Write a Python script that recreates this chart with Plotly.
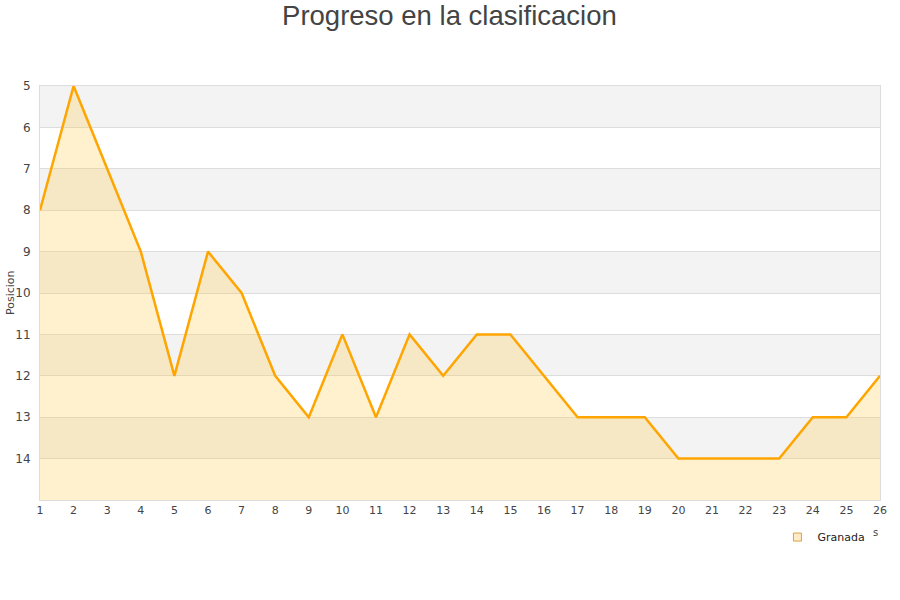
import plotly.graph_objects as go

jornadas = list(range(1, 27))
posicion = [8, 5, 7, 9, 12, 9, 10, 12, 13, 11, 13, 11, 12, 11, 11, 12, 13, 13, 13, 14, 14, 14, 14, 13, 13, 12]
y_ticks = list(range(5, 15))
y_min, y_max = 5, 15
team = "Granada"

fig = go.Figure()

# alternating bands
for b in range(y_min, y_max, 2):
    fig.add_shape(type="rect", xref="paper", yref="y", x0=0, x1=1, y0=b, y1=b + 1,
                  fillcolor="#F3F3F3", line_width=0, layer="below")

baseline = [y_max] * len(jornadas)
fig.add_trace(go.Scatter(x=jornadas, y=baseline, mode="lines", line=dict(width=0),
                         showlegend=False, hoverinfo="skip"))
fig.add_trace(go.Scatter(x=jornadas, y=posicion, mode="lines", fill="tonexty",
                         fillcolor="rgba(255,200,80,0.28)",
                         line=dict(color="#FFA500", width=2.5), showlegend=False, name=team))
fig.add_trace(go.Scatter(x=[None], y=[None], mode="markers", name=team,
                         marker=dict(symbol="square", size=8, color="#FFEBC8",
                                     line=dict(color="#D9A441", width=1))))

fig.update_layout(
    width=900, height=600,
    paper_bgcolor="white", plot_bgcolor="white",
    margin=dict(l=40, r=20, t=86, b=100, autoexpand=False),
    title=dict(text="Progreso en la clasificacion", x=0.4994, y=0.975, xanchor="center", yanchor="middle",
               font=dict(family="Liberation Sans, Arial, sans-serif", size=27.5, color="#444")),
    font=dict(family="DejaVu Sans, Arial, sans-serif", size=11, color="#444"),
    legend=dict(x=0.9886, y=-0.0545, xanchor="right", yanchor="top", orientation="h",
                font=dict(size=11, color="#222"), bgcolor="rgba(0,0,0,0)", itemwidth=30),
    showlegend=True,
)
fig.update_xaxes(range=[1, 26], tickvals=jornadas, ticks="", showgrid=False, zeroline=False,
                 automargin=False,
                 showline=True, linecolor="#DDDDDD", mirror=True, tickfont=dict(size=11, color="#444"))
fig.update_yaxes(range=[y_max, y_min], tickvals=y_ticks, showgrid=True, gridcolor="#DDDDDD",
                 zeroline=False, showline=True, linecolor="#DDDDDD", mirror=True, automargin=False,
                 tickfont=dict(size=12, color="#444"), ticklabelstandoff=6)

fig.add_annotation(text="Posicion", xref="paper", yref="paper", x=-0.0357, y=0.5,
                   xanchor="center", yanchor="middle", textangle=-90, showarrow=False,
                   font=dict(size=11, color="#444"))
fig.add_annotation(text="s", xref="paper", yref="paper", x=0.9995, y=-0.097, showarrow=False,
                   font=dict(size=10, color="#444"))

fig.write_html("out.html", config={"displayModeBar": False},
               post_script="document.body.style.margin='0';")
